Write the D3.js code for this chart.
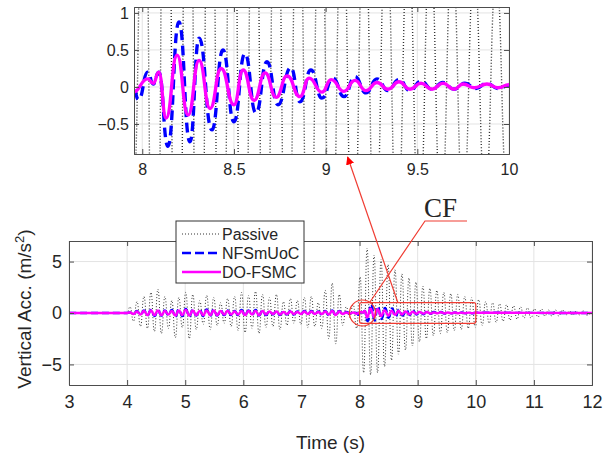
<!DOCTYPE html>
<html>
<head>
<meta charset="utf-8">
<script src="https://cdn.jsdelivr.net/npm/d3@7"></script>
<style>
  body { margin: 0; background: #fff; }
  text { font-family: "Liberation Sans", Arial, sans-serif; fill: #262626; }
</style>
</head>
<body>
<div id="chart"></div>
<script>
// ---- data ----
// Passive: alternating peak values, one every half period starting at 4.05 s
var passiveStart = 4.05;
var peakStep = 0.06;
var flatFrom = 3, flatUntil = 4.0;
var passivePeaks = [
  0.6, -0.8, 1.1, -1.3, 1.6, -1.5, 2.0, -1.8, 2.3, -2.0,
  1.6, -1.5, 1.2, -2.4, 1.5, -1.4, 2.0, -2.5, 1.8, -1.6,
  1.2, -1.1, 1.7, -1.6, 1.5, -1.2, 1.0, -1.0, 1.4, -1.3,
  1.6, -1.7, 2.0, -1.9, 1.7, -1.5, 2.1, -2.0, 1.8, -1.4,
  1.5, -1.3, 1.8, -1.6, 1.1, -1.2, 1.4, -1.0, 1.2, -1.1,
  1.5, -1.4, 1.6, -1.3, 1.0, -1.5, 2.2, -2.5, 2.9, -3.0,
  1.8, -1.2, 0.6, -0.4, 0.8, -1.5, 3.5, -5.8, 6.3, -6.0,
  5.6, -5.8, 5.2, -5.2, 4.7, -4.6, 4.2, -4.0, 3.8, -3.6,
  3.4, -3.2, 3.0, -2.8, 2.6, -2.5, 2.4, -2.2, 2.2, -2.0,
  2.0, -1.9, 1.9, -1.7, 1.8, -1.6, 1.6, -1.5, 1.5, -1.4,
  1.3, -1.2, 1.1, -1.0, 1.0, -0.9, 0.9, -0.8, 0.8, -0.7,
  0.7, -0.6, 0.6, -0.5, 0.5, -0.5, 0.4, -0.4, 0.4, -0.3,
  0.3, -0.3, 0.3, -0.3, 0.3, -0.2, 0.2, -0.2, 0.2, -0.2, 0.2, -0.2
];

// controllers before 8 s: half-period peaks from 4.05 s
var ctrlStart = 4.05;
var doEarly = [
  0.05, -0.1, 0.15, -0.15, 0.2, -0.2, 0.25, -0.2, 0.25, -0.2,
  0.2, -0.15, 0.2, -0.25, 0.25, -0.2, 0.3, -0.25, 0.25, -0.2,
  0.2, -0.2, 0.25, -0.2, 0.25, -0.2, 0.2, -0.15, 0.2, -0.15,
  0.15, -0.15, 0.2, -0.2, 0.2, -0.15, 0.2, -0.2, 0.2, -0.15,
  0.15, -0.1, 0.15, -0.15, 0.1, -0.1, 0.15, -0.1, 0.1, -0.1,
  0.15, -0.1, 0.15, -0.1, 0.1, -0.1, 0.15, -0.15, 0.2, -0.2,
  0.15, -0.1, 0.05, -0.05, 0.05, -0.07
];
var nfEarly = [
  0.05, -0.1, 0.2, -0.2, 0.25, -0.25, 0.3, -0.3, 0.3, -0.25,
  0.25, -0.2, 0.3, -0.35, 0.35, -0.3, 0.4, -0.35, 0.3, -0.25,
  0.3, -0.3, 0.35, -0.3, 0.35, -0.25, 0.25, -0.2, 0.25, -0.2,
  0.2, -0.2, 0.3, -0.25, 0.25, -0.2, 0.3, -0.25, 0.25, -0.2,
  0.2, -0.15, 0.2, -0.2, 0.15, -0.15, 0.2, -0.15, 0.15, -0.1,
  0.2, -0.15, 0.2, -0.15, 0.15, -0.15, 0.2, -0.2, 0.25, -0.25,
  0.2, -0.15, 0.1, -0.05, 0.05, 0.0
];

// controllers from 8 s on (the zoomed window)
var doLateT = [8.03, 8.06, 8.09, 8.13, 8.19, 8.25, 8.31, 8.37, 8.43, 8.50,
  8.55, 8.61, 8.67, 8.73, 8.79, 8.86, 8.91, 8.98, 9.03, 9.10,
  9.16, 9.22, 9.28, 9.34, 9.40, 9.46, 9.52, 9.58, 9.64, 9.70,
  9.75, 9.81, 9.88, 9.94, 10.0, 12.0];
var doLateV = [0.11, 0.05, 0.2, -0.42, 0.43, -0.38, 0.36, -0.29, 0.25, -0.24,
  0.23, -0.18, 0.19, -0.14, 0.15, -0.13, 0.12, -0.07, 0.1, -0.06,
  0.09, -0.05, 0.06, -0.03, 0.07, -0.03, 0.05, -0.03, 0.05, -0.03,
  0.04, -0.01, 0.04, -0.01, 0.03, 0.0];
var nfLateT = [7.98, 8.03, 8.06, 8.09, 8.14, 8.20, 8.26, 8.31, 8.38, 8.44,
  8.50, 8.56, 8.62, 8.68, 8.74, 8.81, 8.86, 8.92, 8.98, 9.04,
  9.10, 9.16, 9.22, 9.28, 9.34, 9.40, 9.46, 9.52, 9.58, 9.64,
  9.70, 9.76, 9.82, 9.88, 9.94, 10.0, 12.0];
var nfLateV = [-0.17, 0.2, 0.04, 0.2, -0.8, 0.88, -0.74, 0.66, -0.58, 0.5,
  -0.47, 0.45, -0.35, 0.34, -0.24, 0.26, -0.2, 0.23, -0.15, 0.12,
  -0.13, 0.14, -0.08, 0.11, -0.05, 0.1, -0.05, 0.08, -0.03, 0.06,
  -0.03, 0.05, -0.02, 0.05, -0.02, 0.02, 0.0];

var mainTicksX = [3, 4, 5, 6, 7, 8, 9, 10, 11, 12];
var mainTicksY = [-5, 0, 5];
var zoomTicksX = [8, 8.5, 9, 9.5, 10];
var zoomTicksY = [-0.5, 0, 0.5, 1];
var legendNames = ["Passive", "NFSmUoC", "DO-FSMC"];

// ---- build series ----
function lead() { return [{t: flatFrom, v: 0}, {t: flatUntil, v: 0}]; }
var passiveData = lead().concat(passivePeaks.map(function(v, i) { return {t: passiveStart + i * peakStep, v: v}; }));
passiveData.push({t: 12, v: 0});
var doData = lead()
  .concat(doEarly.map(function(v, i) { return {t: ctrlStart + i * peakStep, v: v}; }))
  .concat(doLateT.map(function(t, i) { return {t: t, v: doLateV[i]}; }));
var nfData = lead()
  .concat(nfEarly.map(function(v, i) { return {t: ctrlStart + i * peakStep, v: v}; }))
  .concat(nfLateT.map(function(t, i) { return {t: t, v: nfLateV[i]}; }));

var series = [
  {name: legendNames[0], data: passiveData, color: "#333", dash: "1,2", w: 1},
  {name: legendNames[1], data: nfData, color: "#0000ff", dash: "7,4", w: 2.4},
  {name: legendNames[2], data: doData, color: "#ff00ff", dash: null, w: 2.4}
];

var svg = d3.select("#chart").append("svg")
  .attr("width", 603).attr("height", 458);

var defs = svg.append("defs");
defs.append("marker").attr("id", "arrow")
  .attr("viewBox", "0 0 10 10").attr("refX", 9).attr("refY", 5)
  .attr("markerWidth", 7).attr("markerHeight", 7).attr("orient", "auto")
  .append("path").attr("d", "M0,0 L10,5 L0,10 z").attr("fill", "#f00");

// draw one MATLAB-style axes box
function drawAxes(opts) {
  var x = opts.x, y = opts.y;
  var x0 = x.range()[0], x1 = x.range()[1], y0 = y.range()[0], y1 = y.range()[1];
  var g = svg.append("g");
  var w = x1 - x0, h = y0 - y1;

  g.append("rect").attr("x", x0).attr("y", y1).attr("width", w).attr("height", h).attr("fill", "#fff");

  // grid
  g.selectAll(".gx").data(opts.ticksX).join("line")
    .attr("x1", d => x(d)).attr("x2", d => x(d)).attr("y1", y1).attr("y2", y0)
    .attr("stroke", "#e3e3e3").attr("stroke-width", 1);
  g.selectAll(".gy").data(opts.ticksY).join("line")
    .attr("x1", x0).attr("x2", x1).attr("y1", d => y(d)).attr("y2", d => y(d))
    .attr("stroke", "#e3e3e3").attr("stroke-width", 1);

  // clipped series
  defs.append("clipPath").attr("id", opts.clip)
    .append("rect").attr("x", x0).attr("y", y1).attr("width", w).attr("height", h);
  var line = d3.line().curve(d3.curveBumpX).x(d => x(d.t)).y(d => y(d.v));
  var sg = g.append("g").attr("clip-path", "url(#" + opts.clip + ")");
  series.forEach(function(s) {
    sg.append("path").datum(s.data.filter(d => d.t >= x.domain()[0] - 0.1 && d.t <= x.domain()[1] + 2.1))
      .attr("d", line).attr("fill", "none")
      .attr("stroke", s.color)
      .attr("stroke-width", s.w * opts.lw)
      .attr("stroke-dasharray", s.dash ? s.dash.split(",").map(v => +v * (s.w > 1 ? opts.lw : 1)).join(",") : null)
      .attr("stroke-linejoin", "round");
  });

  // axes with inward ticks
  var fmt = opts.fmt;
  g.append("g").attr("transform", "translate(0," + y0 + ")")
    .call(d3.axisBottom(x).tickValues(opts.ticksX).tickSize(-5).tickPadding(opts.padX).tickFormat(fmt));
  g.append("g").attr("transform", "translate(0," + y1 + ")")
    .call(d3.axisTop(x).tickValues(opts.ticksX).tickSize(-5).tickFormat(""));
  g.append("g").attr("transform", "translate(" + x0 + ",0)")
    .call(d3.axisLeft(y).tickValues(opts.ticksY).tickSize(-5).tickPadding(opts.padY).tickFormat(fmt));
  g.append("g").attr("transform", "translate(" + x1 + ",0)")
    .call(d3.axisRight(y).tickValues(opts.ticksY).tickSize(-5).tickFormat(""));
  g.selectAll(".domain").attr("stroke", "#4d4d4d");
  g.selectAll(".tick line").attr("stroke", "#4d4d4d");
  g.selectAll(".tick text").style("font-size", opts.font + "px").attr("fill", "#262626")
    .style("font-family", "'Liberation Sans', Arial, sans-serif");
  return g;
}

var fmt = d3.format("");
var xMain = d3.scaleLinear().domain([3, 12]).range([69, 592]);
var yMain = d3.scaleLinear().domain([-7, 7]).range([385, 241]);
var xZoom = d3.scaleLinear().domain([7.955, 10]).range([134, 509]);
var yZoom = d3.scaleLinear().domain([-0.905, 1.08]).range([154, 7]);

drawAxes({x: xMain, y: yMain, ticksX: mainTicksX, ticksY: mainTicksY, clip: "clipMain",
  lw: 1, font: 18, padX: 10, padY: 7, fmt: fmt});
drawAxes({x: xZoom, y: yZoom, ticksX: zoomTicksX, ticksY: zoomTicksY, clip: "clipZoom",
  lw: 1.4, font: 16, padX: 10, padY: 5, fmt: fmt});

// axis titles
svg.append("text").attr("x", xMain(7.5)).attr("y", 449).attr("text-anchor", "middle")
  .style("font-size", "19px").text("Time (s)");
var yl = svg.append("text").attr("transform", "translate(31,309) rotate(-90)")
  .attr("text-anchor", "middle").style("font-size", "19px");
yl.append("tspan").text("Vertical Acc. (m/s");
yl.append("tspan").attr("dy", -7).style("font-size", "13px").text("2");
yl.append("tspan").attr("dy", 7).text(")");

// legend
var lg = svg.append("g").attr("transform", "translate(176,221)");
lg.append("rect").attr("width", 128).attr("height", 62).attr("fill", "#fff")
  .attr("stroke", "#333").attr("stroke-width", 1);
series.forEach(function(s, i) {
  var yy = 13 + i * 19;
  lg.append("line").attr("x1", 6).attr("x2", 45).attr("y1", yy).attr("y2", yy)
    .attr("stroke", s.color).attr("stroke-width", s.w > 1 ? 2.4 : 1)
    .attr("stroke-dasharray", s.dash ? (s.w > 1 ? "9,4" : "1,2") : null);
  lg.append("text").attr("x", 46).attr("y", yy + 6).style("font-size", "16px").text(s.name);
});

// red annotations
var red = "#f03c32";
var ann = svg.append("g").attr("fill", "none").attr("stroke", red).attr("stroke-width", 1.2);
ann.append("rect").attr("x", xMain(8)).attr("y", yMain(1)).attr("width", xMain(10) - xMain(8))
  .attr("height", yMain(-1) - yMain(1)).attr("rx", 2);
ann.append("circle").attr("cx", xMain(8.05)).attr("cy", yMain(0)).attr("r", 13);
ann.append("line").attr("x1", xMain(8.66)).attr("y1", yMain(1)).attr("x2", xZoom(9.12)).attr("y2", 157)
  .attr("marker-end", "url(#arrow)");
ann.append("polyline").attr("points", [[467, 221], [425, 221], [370, 302]].map(p => p.join(",")).join(" "));
svg.append("text").attr("x", 424).attr("y", 217)
  .style("font-family", "'Liberation Serif', 'Times New Roman', serif").style("font-size", "27px")
  .attr("fill", "#111").text("CF");
</script>
</body>
</html>
